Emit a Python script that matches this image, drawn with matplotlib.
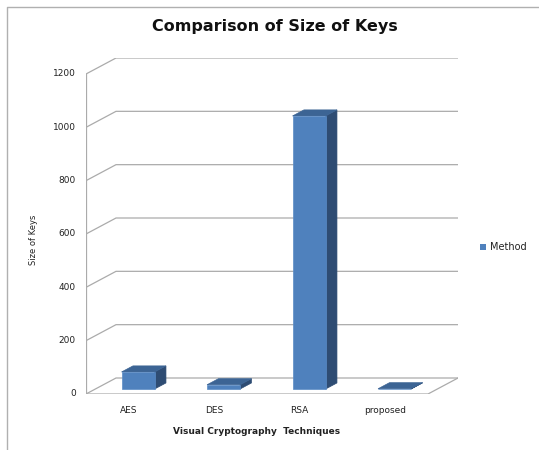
import numpy as np
import matplotlib
matplotlib.use("Agg")
import matplotlib.pyplot as plt
from matplotlib.patches import Polygon
from matplotlib.lines import Line2D

# key sizes per technique
techniques = ["AES", "DES", "RSA", "proposed"]
key_sizes = [64, 16, 1024, 1]
y_ticks = [0, 200, 400, 600, 800, 1000, 1200]

# pseudo-3D geometry (in data units)
depth_x = 0.351      # horizontal shift of the back wall
depth_y = 60         # vertical shift of the back wall
bar_w = 0.386
bar_front, bar_back = 0.31, 0.69   # bar position inside the depth
grid_col = "#ababab"
face_col = "#4f81bd"
top_col = "#3c6494"
side_col = "#2e4c73"

fig = plt.figure(figsize=(5.39, 4.5), dpi=100)
ax = fig.add_axes([86 / 539, 1 - 394 / 450, (458 - 86) / 539, (394 - 58) / 450])
n = len(techniques)
ax.set_xlim(0, n + depth_x)
ax.set_ylim(0, y_ticks[-1] + depth_y)
ax.axis("off")

# walls and floor
for v in y_ticks:
    ax.plot([0, depth_x, n + depth_x], [v, v + depth_y, v + depth_y],
            color=grid_col, lw=0.9, solid_capstyle="butt", zorder=1)
ax.plot([0, n, n + depth_x], [0, 0, depth_y], color=grid_col, lw=0.9, zorder=1)
ax.plot([0, 0], [0, y_ticks[-1]], color=grid_col, lw=0.9, zorder=1)

for v in y_ticks:
    ax.text(-0.12, v, str(v), ha="right", va="center", fontsize=6.5,
            color="#222222")

# bars, drawn above the walls
for i, val in enumerate(key_sizes):
    x0 = i + 0.5 - bar_w / 2 + bar_front * depth_x
    x1 = x0 + bar_w
    y0 = bar_front * depth_y
    y1 = y0 + val
    sx = (bar_back - bar_front) * depth_x
    sy = (bar_back - bar_front) * depth_y
    ax.add_patch(Polygon([(x1, y0), (x1 + sx, y0 + sy), (x1 + sx, y1 + sy), (x1, y1)],
                         closed=True, fc=side_col, ec=side_col, lw=0.5, zorder=3))
    ax.add_patch(Polygon([(x0, y1), (x1, y1), (x1 + sx, y1 + sy), (x0 + sx, y1 + sy)],
                         closed=True, fc=top_col, ec=top_col, lw=0.5, zorder=3))
    ax.add_patch(Polygon([(x0, y0), (x1, y0), (x1, y1), (x0, y1)],
                         closed=True, fc=face_col, ec="#5b8cc6", lw=0.5, zorder=3))

for i, name in enumerate(techniques):
    ax.text(i + 0.5, -62, name, ha="center", va="center", fontsize=6.5,
            color="#222222")

ax.text(2.0, -142, "Visual Cryptography  Techniques", ha="center", va="center",
        fontsize=6.5, fontweight="bold", color="#222222")

fig.text(33 / 539, 1 - 240 / 450, "Size of Keys", rotation=90, ha="center",
         va="center", fontsize=6, color="#222222")

fig.text(275 / 539, 1 - 27 / 450, "Comparison of Size of Keys", ha="center",
         va="center", fontsize=11.5, fontweight="bold", color="#111111")

# legend
fig.patches.append(plt.Rectangle((480 / 539, 1 - 250 / 450), 6 / 539, 6 / 450,
                                 transform=fig.transFigure, fc=face_col, ec="none"))
fig.text(490 / 539, 1 - 247 / 450, "Method", ha="left", va="center",
         fontsize=7, color="#222222")

# chart area border
fig.lines.append(Line2D([7 / 539, 7 / 539, 1], [0, 1 - 7 / 450, 1 - 7 / 450],
                        transform=fig.transFigure, color="#b0b0b0", lw=1))

fig.savefig("out.png", dpi=100)
